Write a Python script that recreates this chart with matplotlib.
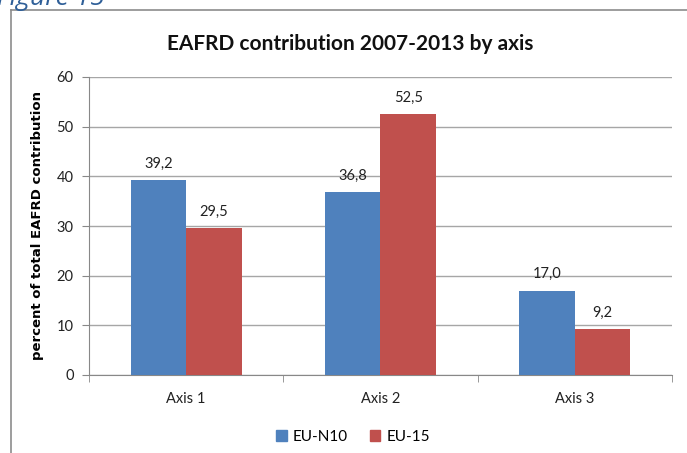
import matplotlib
matplotlib.use("Agg")
import matplotlib.pyplot as plt
from matplotlib.lines import Line2D
from matplotlib.patches import Patch
import numpy as np

categories = ["Axis 1", "Axis 2", "Axis 3"]
eu_n10 = [39.2, 36.8, 17.0]
eu_15 = [29.5, 52.5, 9.2]
series_names = ["EU-N10", "EU-15"]
yticks = [0, 10, 20, 30, 40, 50, 60]

BLUE = "#4F81BD"
RED = "#C0504D"
FONT = "Lato"

fig = plt.figure(figsize=(6.87, 4.53), dpi=100)
W, H = 687, 453

def fx(px):
    return px / W

def fy(py):
    return 1 - py / H

ax = fig.add_axes([fx(89), fy(375), fx(672) - fx(89), fy(77) - fy(375)])

x = np.arange(len(categories))
w = 1 / 3.5
ax.bar(x - w / 2, eu_n10, width=w, color=BLUE, zorder=3)
ax.bar(x + w / 2, eu_15, width=w, color=RED, zorder=3)

def fmt(v):
    return f"{v:.1f}".replace(".", ",")

for xi, v in zip(x - w / 2, eu_n10):
    ax.annotate(fmt(v), (xi, v), xytext=(0, 7), textcoords="offset points",
                ha="center", va="bottom", fontsize=10.5, family=FONT, color="#222222")
for xi, v in zip(x + w / 2, eu_15):
    ax.annotate(fmt(v), (xi, v), xytext=(0, 7), textcoords="offset points",
                ha="center", va="bottom", fontsize=10.5, family=FONT, color="#222222")

ax.set_xlim(-0.5, len(categories) - 0.5)
ax.set_ylim(0, 60)
ax.set_yticks(yticks)
ax.set_yticklabels([str(t) for t in yticks], fontsize=10.5, family=FONT, color="#222222")
ax.yaxis.grid(True, color="#A6A6A6", linewidth=1.0, zorder=0)
ax.set_axisbelow(True)

ax.set_xticks(x)
ax.set_xticklabels(categories, fontsize=10.5, family=FONT, color="#222222")
ax.tick_params(axis="x", which="major", length=0, pad=12)
ax.set_xticks(np.arange(-0.5, len(categories), 1.0), minor=True)
ax.tick_params(axis="x", which="minor", length=5, direction="out", color="#888888")
ax.tick_params(axis="y", length=5, direction="out", color="#888888", pad=6)

for s in ["top", "right"]:
    ax.spines[s].set_visible(False)
ax.spines["left"].set_color("#888888")
ax.spines["bottom"].set_color("#888888")

ax.set_ylabel("percent of total EAFRD contribution", fontsize=9.5,
              fontweight="bold", family="DejaVu Sans")
ax.yaxis.set_label_coords((44 - 89) / 583, 0.5)

fig.text(fx(350), fy(44), "EAFRD contribution 2007-2013 by axis", ha="center",
         va="center", fontsize=15, fontweight="bold", family=FONT, color="#111111")

fig.text(fx(-3), fy(5), "Figure 15", ha="left", va="baseline", fontsize=19,
         style="italic", family="Open Sans", color="#2F5F98")

# chart border
fig.add_artist(Line2D([fx(11), fx(11)], [fy(10), 0], color="#8C8C8C", lw=1.2))
fig.add_artist(Line2D([fx(11), 1], [fy(10), fy(10)], color="#8C8C8C", lw=1.2))

handles = [Patch(color=BLUE), Patch(color=RED)]
fig.legend(handles, series_names, loc="center", bbox_to_anchor=(fx(353), fy(437)),
           ncol=2, frameon=False, handlelength=0.7, handleheight=0.7,
           handletextpad=0.4, columnspacing=1.4,
           prop={"family": FONT, "size": 11})

fig.savefig("out.png", dpi=100)
